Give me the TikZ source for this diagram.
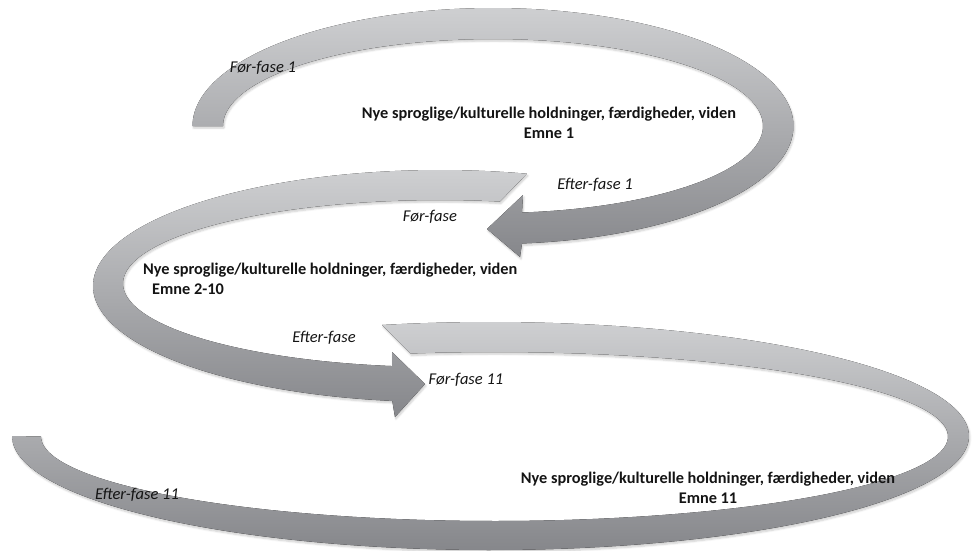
\documentclass[tikz,border=0pt]{standalone}
\usepackage{fontspec}
\setmainfont{Carlito}
\usetikzlibrary{shadows.blur}
\definecolor{bandlight}{RGB}{206,207,209}
\definecolor{banddark}{RGB}{134,135,139}
\definecolor{txt}{RGB}{20,20,20}
\tikzset{
  band/.style={top color=bandlight, bottom color=banddark, draw=none,
    blur shadow={shadow xshift=1pt, shadow yshift=-2pt, shadow blur steps=6, shadow opacity=20}},
  lbl/.style={font=\fontsize{16.5}{19}\selectfont\itshape, text=txt, inner sep=0pt},
  topic/.style={font=\fontsize{16.3}{20}\selectfont\bfseries, text=txt, align=center, inner sep=0pt},
}
\begin{document}
\begin{tikzpicture}[x=1pt, y=-1pt]
\useasboundingbox (0,0) rectangle (975,550);
% arrow 1 (top)
\fill[band] plot[domain=180:444.46, samples=150] ({493+300.5*cos(\x)},{126+118*sin(\x)})
  -- (520,257) -- (487,229) -- (523,195)
  -- plot[domain=443.83:180, samples=150] ({493+270*cos(\x)},{126+87*sin(\x)}) -- cycle;
% arrow 2 (middle)
\fill[band] plot[domain=284.5:97.9, samples=150] ({440+347*cos(\x)},{286+116*sin(\x)})
  -- (395,417) -- (425,384) -- (392,352)
  -- plot[domain=98.7:280.9, samples=150] ({440+317*cos(\x)},{283.5+83.5*sin(\x)}) -- cycle;
% arrow 3 (bottom)
\fill[band] plot[domain=256.9:540, samples=200] ({490.5+478.5*cos(\x)},{436+114*sin(\x)})
  -- plot[domain=540:259.3, samples=200] ({494.5+453.5*cos(\x)},{436.5+84.5*sin(\x)}) -- cycle;
% labels
\node[lbl] (f1) at (263,68) {Før-fase 1};
\node[topic] (t1) at (549,123) {Nye sproglige/kulturelle holdninger, færdigheder, viden\\Emne 1};
\node[lbl] (e1) at (595,185) {Efter-fase 1};
\node[lbl] (f2) at (430,217) {Før-fase};
\node[topic, anchor=west] (t2) at (143,270) {Nye sproglige/kulturelle holdninger, færdigheder, viden};
\node[topic, anchor=west] (t2b) at (152,289) {Emne 2-10};
\node[lbl] (e2) at (324,338) {Efter-fase};
\node[lbl] (f3) at (466,380) {Før-fase 11};
\node[topic] (t3) at (708,488) {Nye sproglige/kulturelle holdninger, færdigheder, viden\\Emne 11};
\node[lbl] (e3) at (137,495) {Efter-fase 11};
\end{tikzpicture}
\end{document}
